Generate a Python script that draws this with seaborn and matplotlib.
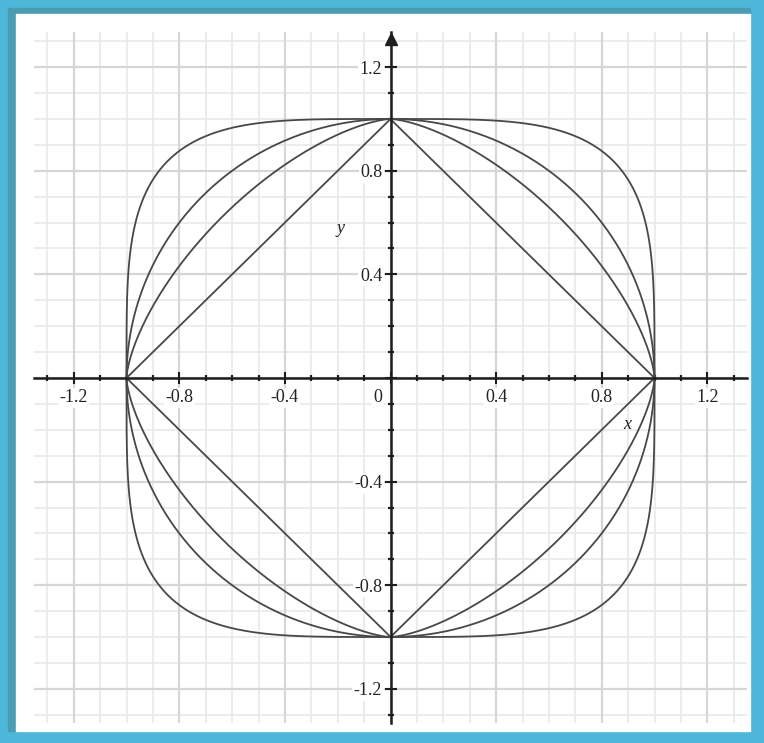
import numpy as np
import pandas as pd
import matplotlib
matplotlib.use('Agg')
import matplotlib.pyplot as plt
import seaborn as sns
from matplotlib.patches import Rectangle
from matplotlib.ticker import MultipleLocator

# exponents p of the curves |x|^p + |y|^p = 1
exponents = [1, 1.5, 2, 4]
tick_values = [-1.2, -0.8, -0.4, 0, 0.4, 0.8, 1.2]
tick_labels = ['-1.2', '-0.8', '-0.4', '', '0.4', '0.8', '1.2']

sns.set_style('white')
plt.rcParams['font.family'] = ['Liberation Serif', 'DejaVu Serif']

W, H = 764, 743
fig = plt.figure(figsize=(W / 100, H / 100), dpi=100, facecolor='#4db7da')
# dark inner frame + white card
fig.patches.append(Rectangle((8 / W, 1 - 731 / H), 742 / W, 723 / H,
                             transform=fig.transFigure, color='#4b9cb3', zorder=-5))
fig.patches.append(Rectangle((16 / W, 1 - 731 / H), 734 / W, 717 / H,
                             transform=fig.transFigure, color='white', zorder=-4))

# axes placed so that 1 unit = 264 px horizontally, 259 px vertically
ax = fig.add_axes([34.1 / W, 1 - 722.5 / H, 712.8 / W, 690.3 / H])
ax.set_zorder(2)
ax.set_facecolor('none')
ax.set_xlim(-1.35, 1.35)
ax.set_ylim(-1.33, 1.335)

t = np.linspace(0, 2 * np.pi, 4001)
rows = []
for p in exponents:
    c, s = np.cos(t), np.sin(t)
    rows.append(pd.DataFrame({
        'x': np.sign(c) * np.abs(c) ** (2 / p),
        'y': np.sign(s) * np.abs(s) ** (2 / p),
        'p': p,
    }))
curves = pd.concat(rows, ignore_index=True)
sns.lineplot(data=curves, x='x', y='y', units='p', estimator=None, sort=False,
             color='#484848', lw=1.3, ax=ax, zorder=3)

ax.set_xticks(tick_values, tick_labels)
ax.set_yticks(tick_values, tick_labels)
ax.xaxis.set_minor_locator(MultipleLocator(0.1))
ax.yaxis.set_minor_locator(MultipleLocator(0.1))

# grid drawn by hand, kept under the tick labels
ax.grid(False)
xlo, xhi = ax.get_xlim()
ylo, yhi = ax.get_ylim()
minor_x = ax.xaxis.get_minorticklocs()
minor_y = ax.yaxis.get_minorticklocs()
ax.vlines(minor_x, ylo, yhi, color='#e9e9e9', lw=1.2, zorder=0.2)
ax.hlines(minor_y, xlo, xhi, color='#e9e9e9', lw=1.2, zorder=0.2)
ax.vlines(tick_values, ylo, yhi, color='#d6d6d6', lw=1.6, zorder=0.3)
ax.hlines(tick_values, xlo, xhi, color='#d6d6d6', lw=1.6, zorder=0.3)
ax.set_xlim(xlo, xhi)
ax.set_ylim(ylo, yhi)

# axes through the origin
for side in ['top', 'right']:
    ax.spines[side].set_visible(False)
for side in ['left', 'bottom']:
    ax.spines[side].set_position(('data', 0))
    ax.spines[side].set_color('#1e1e1e')
    ax.spines[side].set_linewidth(1.8)
    ax.spines[side].set_zorder(4)

ax.tick_params(which='both', bottom=True, left=True, top=False, right=False)
ax.tick_params(which='major', direction='inout', length=9, width=1.5,
               color='#1e1e1e', labelsize=13, labelcolor='#222222')
ax.tick_params(which='minor', direction='inout', length=5, width=1.6, color='#1e1e1e')
ax.tick_params(axis='x', pad=3.5)
ax.tick_params(axis='y', pad=1.5)
for lab in ax.get_xticklabels() + ax.get_yticklabels():
    lab.set_bbox(dict(facecolor='white', edgecolor='none', pad=1))

ax.text(-0.047, -0.077, '0', ha='center', va='center', fontsize=13, color='#222222',
        bbox=dict(facecolor='white', edgecolor='none', pad=1), zorder=2)
ax.set_xlabel('')
ax.set_ylabel('')
ax.text(0.896, -0.178, 'x', ha='center', va='center', fontsize=13, style='italic', color='#222222')
ax.text(-0.191, 0.579, 'y', ha='center', va='center', fontsize=13, style='italic', color='#222222')

# arrow head on the y axis
ax.plot([0], [0.99], marker='^', ms=9, color='#1e1e1e',
        transform=ax.get_xaxis_transform(), clip_on=False, zorder=5)

fig.savefig('out.png', dpi=100, facecolor=fig.get_facecolor())
